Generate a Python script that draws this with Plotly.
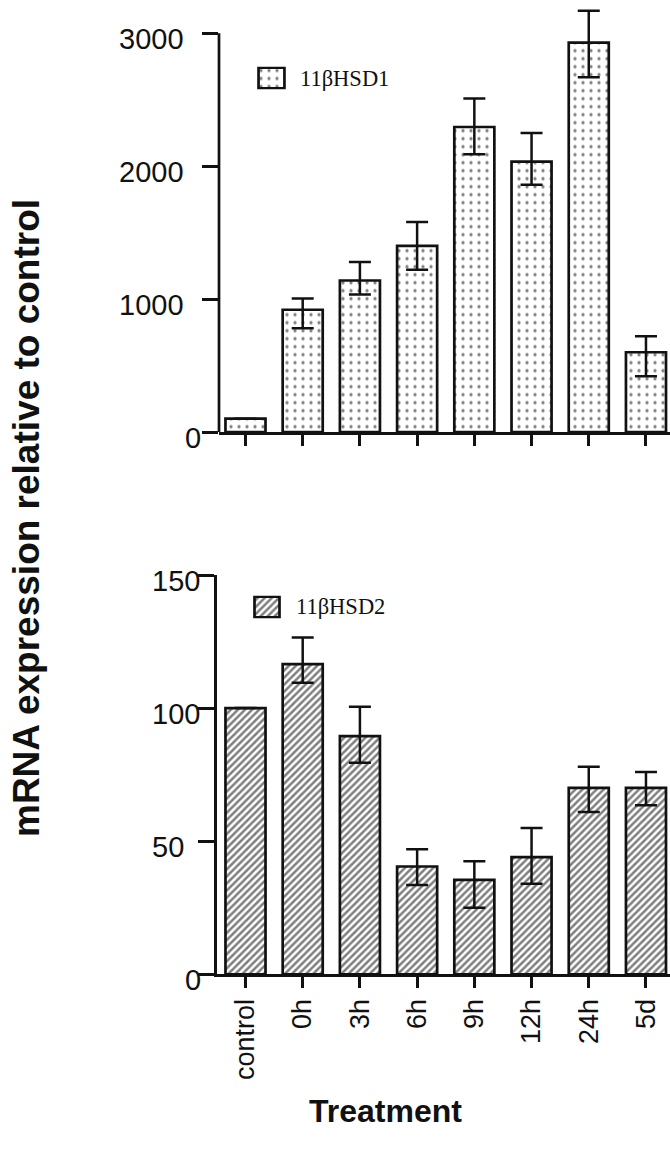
import plotly.graph_objects as go

# Treatment groups along the x axis
categories = ["control", "0h", "3h", "6h", "9h", "12h", "24h", "5d"]

# 11beta-HSD1 mRNA, relative to control (mean, upper / lower error)
hsd1_mean = [100, 920, 1140, 1400, 2295, 2035, 2930, 600]
hsd1_err_up = [0, 85, 140, 180, 215, 215, 240, 120]
hsd1_err_down = [0, 140, 105, 180, 205, 175, 260, 180]

# 11beta-HSD2 mRNA, relative to control (mean, upper / lower error)
hsd2_mean = [100, 116.5, 89.5, 40.5, 35.5, 44, 70, 70]
hsd2_err_up = [0, 10, 11, 6.5, 7, 11, 8, 6]
hsd2_err_down = [0, 7, 10, 7, 10.5, 10, 9, 6.5]

hsd1_ticks = [0, 1000, 2000, 3000]
hsd2_ticks = [0, 50, 100, 150]

legend_names = ["11\u03b2HSD1", "11\u03b2HSD2"]

W, H = 670, 1159
INK = "#111111"
SANS = "Liberation Sans, Arial, Helvetica, sans-serif"
SERIF = "Liberation Serif, Times New Roman, serif"


def fx(px):
    return px / W


def fy(py):
    return 1 - py / H


dots = dict(shape=".", size=8, solidity=0.13, fgcolor="black", bgcolor="white")
hatch = dict(shape="/", size=5, solidity=0.5, fgcolor="black", bgcolor="white")

xpos = list(range(len(categories)))

fig = go.Figure()

fig.add_trace(go.Bar(
    x=xpos, y=hsd1_mean, width=0.7,
    marker=dict(color="white", line=dict(color=INK, width=2.7), pattern=dots),
    error_y=dict(type="data", symmetric=False, array=hsd1_err_up,
                 arrayminus=hsd1_err_down, color=INK, thickness=2.5, width=11),
    xaxis="x", yaxis="y", showlegend=False,
))

fig.add_trace(go.Bar(
    x=xpos, y=hsd2_mean, width=0.7,
    marker=dict(color="white", line=dict(color=INK, width=2.7), pattern=hatch),
    error_y=dict(type="data", symmetric=False, array=hsd2_err_up,
                 arrayminus=hsd2_err_down, color=INK, thickness=2.5, width=11),
    xaxis="x2", yaxis="y2", showlegend=False,
))

# legend keys: one patterned swatch per panel
for pat, xa, ya in [(dots, "x3", "y3"), (hatch, "x4", "y4")]:
    fig.add_trace(go.Bar(
        x=[0], y=[1], width=1,
        marker=dict(color="white", line=dict(color=INK, width=2.7), pattern=pat),
        xaxis=xa, yaxis=ya, showlegend=False, hoverinfo="skip",
    ))

axis_common = dict(showgrid=False, zeroline=False, linecolor=INK, linewidth=2.7,
                   ticks="outside", tickcolor=INK, tickwidth=2.7)

fig.update_layout(
    width=W, height=H,
    margin=dict(l=0, r=0, t=0, b=0),
    paper_bgcolor="white", plot_bgcolor="white",
    showlegend=False,
    xaxis=dict(domain=[fx(219), 1], range=[-0.463, 7.42], anchor="y",
               tickvals=xpos, showticklabels=False, showline=True,
               ticklen=11, **axis_common),
    yaxis=dict(domain=[fy(432), fy(6.7)], range=[0, 3200], anchor="x",
               tickvals=hsd1_ticks, showticklabels=False, showline=False,
               ticklen=16, **axis_common),
    xaxis2=dict(domain=[fx(217), 1], range=[-0.498, 7.42], anchor="y2",
                tickvals=xpos, ticktext=categories, tickangle=-90,
                tickfont=dict(family=SANS, size=27, color=INK),
                showline=True, ticklen=11, **axis_common),
    yaxis2=dict(domain=[fy(974.3), fy(575)], range=[0, 150], anchor="x2",
                tickvals=hsd2_ticks, showticklabels=False, showline=True,
                ticklen=16, **axis_common),
    xaxis3=dict(domain=[fx(257), fx(286)], range=[-0.56, 0.56], visible=False, anchor="y3"),
    yaxis3=dict(domain=[fy(89.5), fy(66.5)], range=[-0.06, 1.06], visible=False, anchor="x3"),
    xaxis4=dict(domain=[fx(253), fx(281)], range=[-0.56, 0.56], visible=False, anchor="y4"),
    yaxis4=dict(domain=[fy(618.5), fy(595.5)], range=[-0.06, 1.06], visible=False, anchor="x4"),
)

# upper panel's y spine stops at the top tick while error bars may rise above it
fig.add_shape(type="line", xref="x domain", yref="y", x0=0, x1=0,
              y0=hsd1_ticks[0], y1=hsd1_ticks[-1],
              line=dict(color=INK, width=2.7))

annotations = []

# y tick labels
for ticks, yref, left_px in [(hsd1_ticks, "y", 117), (hsd2_ticks, "y2", 150)]:
    for t in ticks:
        if t == 0:
            pos = dict(x=fx(203), xanchor="right")
        else:
            pos = dict(x=fx(left_px), xanchor="left")
        annotations.append(dict(xref="paper", y=t, yref=yref, yshift=-6,
                                text=str(t), showarrow=False,
                                font=dict(family=SANS, size=29, color=INK), **pos))

# legend labels
for name, xp, yp in [(legend_names[0], 298, 78), (legend_names[1], 294, 607)]:
    annotations.append(dict(x=fx(xp), y=fy(yp), xref="paper", yref="paper",
                            xanchor="left", yanchor="middle", text=name,
                            showarrow=False,
                            font=dict(family=SERIF, size=22.5, color=INK)))

# axis titles
annotations.append(dict(x=fx(26), y=fy(518), xref="paper", yref="paper",
                        xanchor="center", yanchor="middle", textangle=-90,
                        text="<b>mRNA expression relative to control</b>",
                        showarrow=False,
                        font=dict(family=SANS, size=37, color=INK)))
annotations.append(dict(x=fx(386), y=fy(1111), xref="paper", yref="paper",
                        xanchor="center", yanchor="middle",
                        text="<b>Treatment</b>", showarrow=False,
                        font=dict(family=SANS, size=32, color=INK)))

fig.update_layout(annotations=annotations)

fig.write_html("out.html")
